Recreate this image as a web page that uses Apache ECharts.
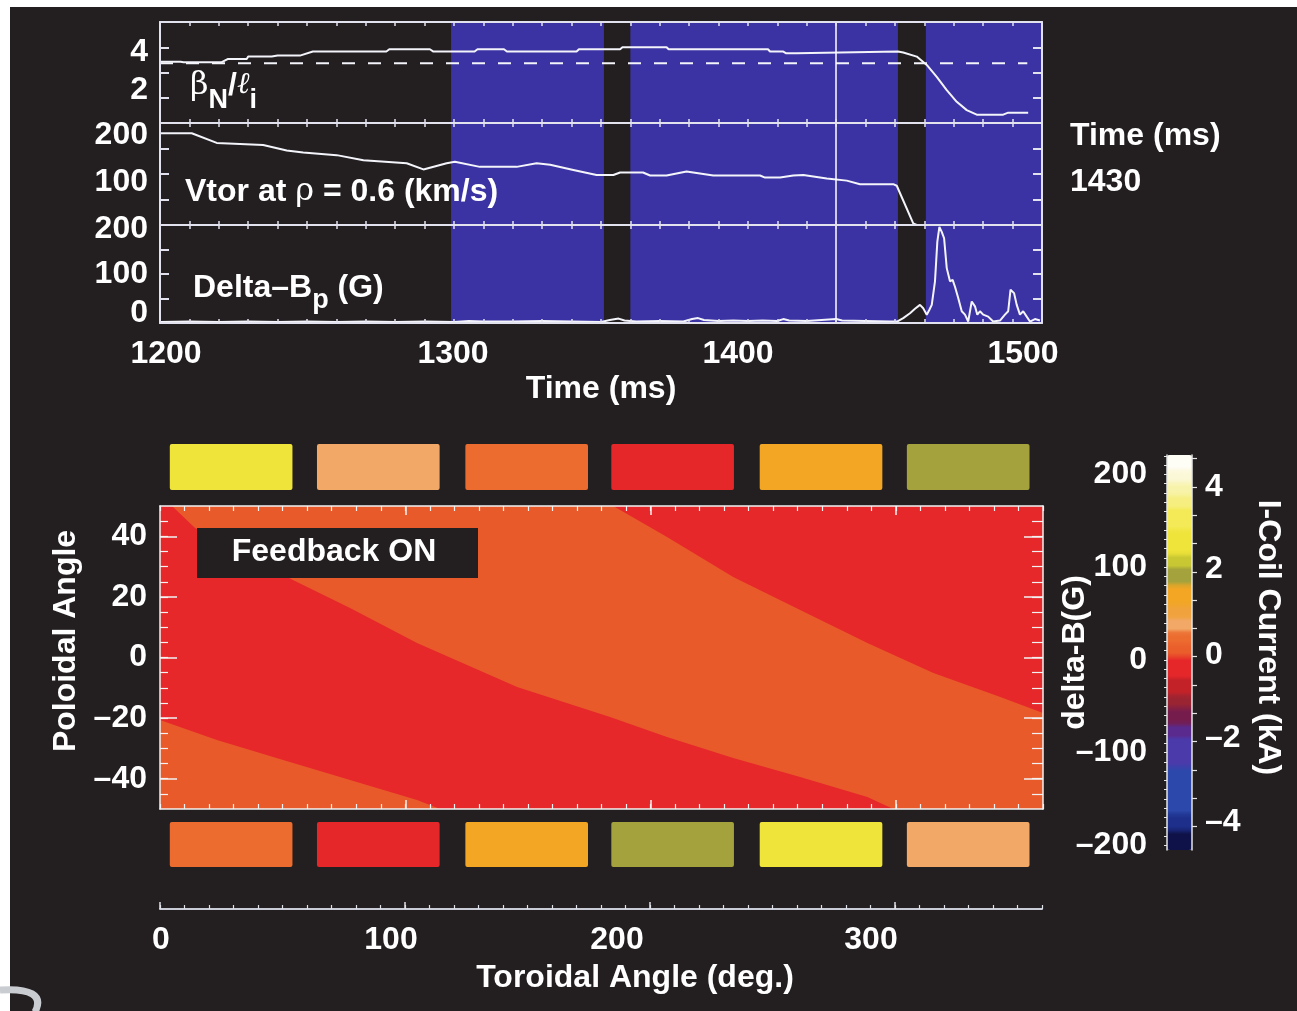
<!DOCTYPE html>
<html>
<head>
<meta charset="utf-8">
<script src="https://cdn.jsdelivr.net/npm/echarts@6/dist/echarts.min.js"></script>
<style>
  html, body { margin: 0; padding: 0; background: #ffffff; }
  #c { width: 1297px; height: 1011px; }
</style>
</head>
<body>
<div id="c"></div>
<script>
// ---------------- data ----------------
// time traces (ms)
const timeTickLabels = [1200, 1300, 1400, 1500];
const betaNLi = [[1200,3.43],[1207,3.43],[1208,3.41],[1221,3.41],[1223,3.53],[1229.5,3.53],[1230,3.63],[1238,3.63],[1240,3.67],[1247.6,3.67],[1252,3.83],[1277,3.83],[1278,3.92],[1291.8,3.92],[1293,3.83],[1307,3.83],[1308,3.92],[1317,3.92],[1318,3.83],[1341.7,3.83],[1342.5,3.92],[1356.5,3.92],[1357.3,4.0],[1372.3,4.0],[1373,3.92],[1406.8,3.92],[1407.5,3.83],[1412,3.83],[1413,3.76],[1416.6,3.76],[1417.2,3.83],[1451,3.83],[1452.8,3.79],[1457.4,3.63],[1460.8,3.30],[1464.2,2.83],[1467.6,2.30],[1471,1.84],[1474.4,1.51],[1477.8,1.33],[1486.8,1.33],[1488.5,1.41],[1495.3,1.41]];
const betaNLiLimit = [[1200,3.37],[1495,3.37]];
const vtor = [[1200,180],[1210.8,180],[1219.3,161],[1235.1,157],[1243.1,146],[1248.7,142],[1260.1,137],[1269.2,127],[1283.9,121],[1289.6,109],[1297.5,121],[1300.3,124],[1308.8,114],[1321.3,114],[1328.1,121],[1332.7,118],[1340.6,108],[1348.5,98],[1354.2,98],[1356.5,103],[1364.3,103],[1366.7,97],[1372.3,97],[1379.1,105],[1388.2,97],[1404.1,97],[1405.8,93],[1410.9,93],[1415.4,97],[1418.8,98],[1426.8,91],[1433.6,87],[1438.1,80],[1449.4,80],[1450.6,77],[1456.2,3],[1457.4,0]];
const deltaBp = [[1200,2],[1210,3],[1220,2],[1230,3],[1240,2],[1250,3],[1260,2],[1270,3],[1280,2],[1290,3],[1300,2],[1305,4],[1310,3],[1320,3],[1330,4],[1340,3],[1350,2],[1353,6],[1356,9],[1358,5],[1362,3],[1370,4],[1378,3],[1381,8],[1383,10],[1385,6],[1390,4],[1395,5],[1400,4],[1405,5],[1410,4],[1412,8],[1414,5],[1420,4],[1425,6],[1430,8],[1432,5],[1440,4],[1448.3,3],[1450.7,3],[1452.8,10],[1455.1,20],[1456.8,29],[1458.5,37],[1459.6,30],[1460.8,17],[1461.7,27],[1462.5,37],[1463.6,85],[1464.4,166],[1465.1,196],[1465.9,186],[1466.7,173],[1467.6,112],[1468.7,85],[1469.6,88],[1470.4,74],[1471.5,51],[1472.7,24],[1473.8,17],[1474.9,3],[1476.1,44],[1477.2,34],[1478,17],[1478.9,24],[1480,17],[1481.7,13],[1483.4,3],[1485.7,5],[1487.4,17],[1488.5,24],[1489.3,68],[1490.5,61],[1491.4,37],[1492.5,17],[1493.6,24],[1494.8,13],[1495.9,3],[1497.6,8],[1499.3,5]];
const feedbackOnStart = [1299, 1360, 1460.5];
const feedbackOnEnd = [1351, 1451, 1500];
const snapshotTime = 1430;

const betaTickLabels = [2, 4];
const vtorTickLabels = [100, 200];
const deltaBpTickLabels = [0, 100, 200];

// mode structure: boundaries between the two field levels, [toroidal deg, poloidal deg]
const frontA = [[4.9,50],[14.3,42.7],[54.2,25.6],[77.5,16.3],[104.8,4.8],[145.6,-9.7],[183.5,-19.6],[206.7,-26.2],[233.7,-33.2],[261,-39.4],[288.4,-46],[299,-50]];
const frontB = [[184.8,50],[206.7,39.8],[233.7,26.6],[261,15.7],[288.4,4.8],[315.3,-5.1],[342.6,-13],[360,-18.3]];
const frontBWrapped = [[0,-20.6],[23.2,-27.2],[50.2,-33.8],[77.5,-40.4],[104.8,-47],[114.2,-50]];

const poloidalTickLabels = [-40, -20, 0, 20, 40];
const toroidalTickLabels = [0, 100, 200, 300];

// I-coils (centre toroidal angle, current in kA)
const coilToroidal = [29, 89, 149.5, 209, 269.5, 329.5];
const upperCoilCurrent = [2.7, 0.75, 0.43, -0.25, 1.45, 1.9];
const lowerCoilCurrent = [0.43, -0.25, 1.45, 1.9, 2.7, 0.75];

const deltaBTickLabels = [-200, -100, 0, 100, 200];
const iCoilTickLabels = [-4, -2, 0, 2, 4];

// ---------------- styling ----------------
const BG = '#231f20';
const BLUE = '#3b33a3';
const RED = '#e6282a';
const ORANGE = '#e95a2b';
const AX = '#e2e2ee';
const FONT = '"Liberation Sans", Arial, sans-serif';
const SYM = '"DejaVu Serif","Liberation Serif",serif';
const FS = 32;
const lab = { color: '#ffffff', fontFamily: FONT, fontWeight: 'bold', fontSize: FS };
const COIL_SPAN = 50;
const CB_MIN = -4.55, CB_MAX = 4.75;
const DB_MIN = -205, DB_MAX = 221;

// colour table of the I-coil / delta-B scale, [upper edge kA, colour]
const cbBands = [
  [4.75,'#fefdf6'],[4.45,'#fbf8d8'],[4.15,'#f8f3ab'],[3.8,'#f6ee80'],[3.45,'#f4ea58'],
  [3.03,'#efe43a'],[2.39,'#c9c833'],[2.11,'#a3a23c'],[1.69,'#f2a624'],[1.22,'#f0a23c'],
  [0.91,'#f2a866'],[0.58,'#ec6c30'],[0.28,'#ea5e2c'],[-0.01,'#e6272a'],[-0.50,'#c42229'],
  [-0.85,'#9a2432'],[-1.21,'#761c4c'],[-1.56,'#5a2a8e'],[-1.85,'#4a3aaa'],[-2.56,'#2b48aa'],
  [-3.73,'#1d2f8a'],[-4.13,'#0f1248']
];
function bandColor(v) {
  for (let i = cbBands.length - 1; i >= 0; i--) {
    if (v <= cbBands[i][0]) return cbBands[i][1];
  }
  return cbBands[0][1];
}
const palette = [];
for (let k = 0; k < 94; k++) palette.push(bandColor(CB_MIN + (CB_MAX - CB_MIN) * k / 93));

function dash(v) { return String(v).replace('-', '\u2013'); }
function yLabels(values, dy, margin) {
  const rich = {};
  values.forEach((v, i) => {
    const d = (dy && dy[v]) || 0;
    rich['r' + i] = Object.assign({}, lab, { padding: [d > 0 ? 2 * d : 0, 0, d < 0 ? -2 * d : 0, 0] });
  });
  return Object.assign({}, lab, {
    show: true, margin: margin, customValues: values, rich: rich,
    formatter: v => { const i = values.indexOf(v); return i < 0 ? '' : '{r' + i + '|' + dash(v) + '}'; }
  });
}
function xLabels(values, dx, margin) {
  const rich = {};
  values.forEach((v, i) => {
    const d = (dx && dx[v]) || 0;
    rich['r' + i] = Object.assign({}, lab, { padding: [0, d < 0 ? -2 * d : 0, 0, d > 0 ? 2 * d : 0] });
  });
  return Object.assign({}, lab, {
    show: true, margin: margin, customValues: values, rich: rich,
    formatter: v => { const i = values.indexOf(v); return i < 0 ? '' : '{r' + i + '|' + dash(v) + '}'; }
  });
}
const noLabel = { show: false };
const noSplit = { show: false };
function range(a, b, s) { const r = []; for (let v = a; v <= b + 1e-9; v += s) r.push(Math.round(v * 1000) / 1000); return r; }

// ---------------- grids ----------------
const grids = [
  { left: 160, right: 255, top: 22, height: 101 },   // 0 beta_N / li
  { left: 160, right: 255, top: 123, height: 102 },  // 1 Vtor
  { left: 160, right: 255, top: 225, height: 98 },   // 2 delta-Bp
  { left: 160, right: 254, top: 506, height: 303 },  // 3 mode map
  { left: 160, right: 254, top: 444, height: 46 },   // 4 upper coils
  { left: 160, right: 254, top: 822, height: 45 },   // 5 lower coils
  { left: 160, right: 255, top: 899, height: 10 },   // 6 toroidal axis
  { left: 1167, width: 25, top: 455, height: 395 }   // 7 colour bar
].map(g => Object.assign({ outerBoundsMode: 'none', containLabel: false }, g));

// ---------------- axes ----------------
const xAxis = [];
const yAxis = [];
function timeX(gi, position, withLabels) {
  const a = {
    gridIndex: gi, type: 'value', position: position, min: 1200, max: 1500, interval: 10, z: 10,
    axisLine: { onZero: false, lineStyle: { color: AX, width: 2 } },
    axisTick: { inside: true, length: 4, lineStyle: { color: AX, width: 1.5 } },
    axisLabel: noLabel, splitLine: noSplit
  };
  if (withLabels) {
    a.axisLabel = xLabels(timeTickLabels, { 1200: 6, 1300: -1, 1400: -10, 1500: -19 }, 15);
    a.name = 'Time (ms)';
    a.nameLocation = 'middle';
    a.nameGap = 50;
    a.nameMoveOverlap = false;
    a.nameTextStyle = Object.assign({}, lab);
  }
  xAxis.push(a);
  return xAxis.length - 1;
}
function panelY(gi, min, max, ticks, labels, dy) {
  const left = {
    gridIndex: gi, type: 'value', position: 'left', min: min, max: max, z: 10,
    axisLine: { show: true, onZero: false, lineStyle: { color: AX, width: 2 } },
    axisTick: { show: true, inside: true, length: 9, customValues: ticks, lineStyle: { color: AX, width: 2 } },
    axisLabel: yLabels(labels, dy, 12), splitLine: noSplit
  };
  const right = {
    gridIndex: gi, type: 'value', position: 'right', min: min, max: max, z: 10,
    axisLine: { show: true, onZero: false, lineStyle: { color: AX, width: 2 } },
    axisTick: { show: true, inside: true, length: 9, customValues: ticks, lineStyle: { color: AX, width: 2 } },
    axisLabel: noLabel, splitLine: noSplit
  };
  yAxis.push(left); const li = yAxis.length - 1;
  yAxis.push(right);
  return li;
}

const xP0 = timeX(0, 'bottom', false); timeX(0, 'top', false);
const xP1 = timeX(1, 'bottom', false); timeX(1, 'top', false);
const xP2 = timeX(2, 'bottom', true); timeX(2, 'top', false);
const yP0 = panelY(0, 1, 5, [2, 3, 4], betaTickLabels, { 4: 5, 2: -8 });
const yP1 = panelY(1, 0, 200, [50, 100, 150], vtorTickLabels, { 200: 12, 100: 8 });
const yP2 = panelY(2, 0, 200, [50, 100, 150], deltaBpTickLabels, { 200: 4, 0: -10 });

// mode map axes
const mapLine = { show: true, onZero: false, lineStyle: { color: '#f2f2f2', width: 1.5 } };
function mapX(position, major) {
  xAxis.push({
    gridIndex: 3, type: 'value', position: position, min: 0, max: 360, interval: 10, z: 10,
    axisLine: major ? { show: false, onZero: false } : mapLine,
    axisTick: major ? { inside: true, length: 9, customValues: [100, 200, 300], lineStyle: { color: '#f2f2f2', width: 1.5 } }
                    : { inside: true, length: 5, lineStyle: { color: '#f2f2f2', width: 1.2 } },
    axisLabel: noLabel, splitLine: noSplit
  });
  return xAxis.length - 1;
}
const xMap = mapX('bottom', false); mapX('top', false); mapX('bottom', true); mapX('top', true);
function mapY(position, major, withLabels) {
  const a = {
    gridIndex: 3, type: 'value', position: position, min: -50, max: 50, z: 10,
    axisLine: major ? mapLine : { show: false, onZero: false },
    axisTick: major ? { inside: true, length: position === 'left' ? 17 : 19, customValues: poloidalTickLabels, lineStyle: { color: '#f2f2f2', width: 1.5 } }
                    : { inside: true, length: position === 'left' ? 8 : 11, customValues: range(-45, 45, 5), lineStyle: { color: '#f2f2f2', width: 1.2 } },
    axisLabel: withLabels ? yLabels(poloidalTickLabels, null, 13) : noLabel,
    splitLine: noSplit
  };
  if (withLabels) {
    a.name = 'Poloidal Angle';
    a.nameLocation = 'middle';
    a.nameRotate = 90;
    a.nameGap = 78;
    a.nameMoveOverlap = false;
    a.nameTextStyle = Object.assign({}, lab, { padding: [0, 0, 0, 33] });
  }
  yAxis.push(a);
  return yAxis.length - 1;
}
const yMap = mapY('left', true, true); mapY('left', false, false); mapY('right', true, false); mapY('right', false, false);

// coil rows
const hiddenAxis = { show: false };
xAxis.push(Object.assign({ gridIndex: 4, type: 'value', min: 0, max: 360 }, hiddenAxis)); const xUp = xAxis.length - 1;
yAxis.push(Object.assign({ gridIndex: 4, type: 'value', min: 0, max: 1 }, hiddenAxis)); const yUp = yAxis.length - 1;
xAxis.push(Object.assign({ gridIndex: 5, type: 'value', min: 0, max: 360 }, hiddenAxis)); const xLo = xAxis.length - 1;
yAxis.push(Object.assign({ gridIndex: 5, type: 'value', min: 0, max: 1 }, hiddenAxis)); const yLo = yAxis.length - 1;

// toroidal angle axis
xAxis.push({
  gridIndex: 6, type: 'value', position: 'bottom', min: 0, max: 360, interval: 10,
  axisLine: { show: true, onZero: false, lineStyle: { color: '#c9ccd6', width: 2 } },
  axisTick: { inside: true, length: 4, lineStyle: { color: '#dfe1e8', width: 1.2 } },
  axisLabel: xLabels(toroidalTickLabels, { 0: 1, 100: -14, 200: -33, 300: -24 }, 15),
  splitLine: noSplit,
  name: 'Toroidal Angle (deg.)', nameLocation: 'middle', nameGap: 53, nameMoveOverlap: false,
  nameTextStyle: Object.assign({}, lab, { padding: [0, 0, 0, 68] })
});
xAxis.push({
  gridIndex: 6, type: 'value', position: 'bottom', min: 0, max: 360,
  axisLine: { show: false, onZero: false },
  axisTick: { inside: true, length: 7, customValues: [0, 100, 200, 300], lineStyle: { color: '#dfe1e8', width: 1.5 } },
  axisLabel: noLabel, splitLine: noSplit
});
yAxis.push({ gridIndex: 6, type: 'value', min: 0, max: 1, show: false });

// colour bar axes
xAxis.push({ gridIndex: 7, type: 'value', min: 0, max: 1, show: false });
yAxis.push({
  gridIndex: 7, type: 'value', position: 'left', min: DB_MIN, max: DB_MAX, z: 10,
  axisLine: { show: true, onZero: false, lineStyle: { color: '#e6e6e6', width: 1.5 } },
  axisTick: { show: true, inside: false, length: 3, customValues: range(-200, 220, 10), lineStyle: { color: '#e6e6e6', width: 1 } },
  axisLabel: yLabels(deltaBTickLabels, null, 20), splitLine: noSplit,
  name: 'delta-B(G)', nameLocation: 'middle', nameRotate: 90, nameGap: 76, nameMoveOverlap: false,
  nameTextStyle: Object.assign({}, lab)
});
yAxis.push({
  gridIndex: 7, type: 'value', position: 'right', min: CB_MIN, max: CB_MAX, z: 10,
  axisLine: { show: true, onZero: false, lineStyle: { color: '#e6e6e6', width: 1.5 } },
  axisTick: { show: true, inside: false, length: 5, customValues: range(-4, 4.67, 2 / 3), lineStyle: { color: '#e6e6e6', width: 1.2 } },
  axisLabel: yLabels(iCoilTickLabels, { 2: -3, 0: -2, '-2': -4, '-4': -4 }, 13), splitLine: noSplit,
  name: 'I-Coil Current (kA)', nameLocation: 'middle', nameRotate: -90, nameGap: 60, nameMoveOverlap: false,
  nameTextStyle: Object.assign({}, lab, { padding: [0, 30, 0, 0] })
});

// ---------------- series ----------------
const shading = {
  silent: true,
  itemStyle: { color: BLUE },
  data: feedbackOnStart.map((s, i) => [{ xAxis: s }, { xAxis: feedbackOnEnd[i] }])
};
const marker = {
  silent: true, symbol: ['none', 'none'], label: { show: false },
  lineStyle: { color: '#ffffff', width: 1.5, type: 'solid' },
  data: [{ xAxis: snapshotTime }]
};
function trace(xi, yi, data) {
  return {
    type: 'line', xAxisIndex: xi, yAxisIndex: yi, data: data, showSymbol: false, symbol: 'none',
    lineStyle: { color: '#f4f4fb', width: 2 }, z: 3, markArea: shading, markLine: marker, silent: true
  };
}

const mapRegions = [
  { color: ORANGE, pts: [[0, 50], [360, 50], [360, -50], [0, -50]] },
  { color: RED, pts: [[0, 50]].concat(frontA, frontBWrapped.slice().reverse()) },
  { color: RED, pts: frontB.concat([[360, 50]]) }
];

function coilItem(params, api) {
  const t = api.value(0);
  const p0 = api.coord([t - COIL_SPAN / 2, 1]);
  const p1 = api.coord([t + COIL_SPAN / 2, 0]);
  return {
    type: 'rect',
    shape: { x: p0[0], y: p0[1], width: p1[0] - p0[0], height: p1[1] - p0[1], r: 2 },
    style: { fill: api.visual('color') }
  };
}

const series = [
  trace(xP0, yP0, betaNLi),
  { type: 'line', xAxisIndex: xP0, yAxisIndex: yP0, data: betaNLiLimit, showSymbol: false, symbol: 'none', silent: true, z: 3,
    lineStyle: { color: '#f4f4fb', width: 2, type: [13, 13] } },
  trace(xP1, yP1, vtor),
  trace(xP2, yP2, deltaBp),
  { type: 'custom', xAxisIndex: xMap, yAxisIndex: yMap, silent: true, z: 1,
    data: mapRegions.map((r, i) => [i]),
    renderItem: (params, api) => {
      const r = mapRegions[params.dataIndex];
      return { type: 'polygon', shape: { points: r.pts.map(p => api.coord(p)) }, style: { fill: r.color } };
    } },
  { type: 'custom', xAxisIndex: xUp, yAxisIndex: yUp, silent: true,
    data: coilToroidal.map((t, i) => [t, upperCoilCurrent[i]]), renderItem: coilItem },
  { type: 'custom', xAxisIndex: xLo, yAxisIndex: yLo, silent: true,
    data: coilToroidal.map((t, i) => [t, lowerCoilCurrent[i]]), renderItem: coilItem }
];

// ---------------- annotations ----------------
const graphic = [
  { type: 'rect', z: -100, shape: { x: 10, y: 7, width: 1287, height: 1004 }, style: { fill: BG }, silent: true },
  { type: 'bezierCurve', z: -50, silent: true,
    shape: { x1: 0, y1: 990, cpx1: 30, cpy1: 988, cpx2: 44, cpy2: 995, x2: 35, y2: 1012 },
    style: { stroke: '#c9ccd1', lineWidth: 7, fill: null } },
  { type: 'text', z: 50, x: 190, y: 70, silent: true, style: {
      text: '{g|\u03b2}{s|N}{t|/}{l|\u2113}{s|i}',
      rich: {
        g: { fill: '#fff', fontFamily: SYM, fontSize: 32, lineHeight: 44, verticalAlign: 'top' },
        s: { fill: '#fff', fontFamily: FONT, fontWeight: 'bold', fontSize: 27, verticalAlign: 'bottom' },
        t: { fill: '#fff', fontFamily: FONT, fontWeight: 'bold', fontSize: 32, lineHeight: 44, verticalAlign: 'top' },
        l: { fill: '#fff', fontFamily: SYM, fontStyle: 'italic', fontSize: 30, lineHeight: 44, verticalAlign: 'top' }
      } } },
  { type: 'text', z: 50, x: 185, y: 192, silent: true, style: {
      text: '{a|Vtor at }{r|\u03c1}{a| = 0.6 (km/s)}', verticalAlign: 'middle',
      rich: {
        a: { fill: '#fff', fontFamily: FONT, fontWeight: 'bold', fontSize: FS },
        r: { fill: '#fff', fontFamily: SYM, fontSize: 32 }
      } } },
  { type: 'text', z: 50, x: 193, y: 272, silent: true, style: {
      text: '{a|Delta\u2013B}{s|p}{a| (G)}',
      rich: {
        a: { fill: '#fff', fontFamily: FONT, fontWeight: 'bold', fontSize: FS, lineHeight: 42, verticalAlign: 'top' },
        s: { fill: '#fff', fontFamily: FONT, fontWeight: 'bold', fontSize: 27, verticalAlign: 'bottom' }
      } } },
  { type: 'text', z: 50, x: 1070, y: 136, silent: true, style: {
      text: 'Time (ms)', fill: '#fff', font: 'bold ' + FS + 'px ' + FONT, verticalAlign: 'middle' } },
  { type: 'text', z: 50, x: 1070, y: 182, silent: true, style: {
      text: String(snapshotTime), fill: '#fff', font: 'bold ' + FS + 'px ' + FONT, verticalAlign: 'middle' } },
  { type: 'rect', z: 50, silent: true, shape: { x: 197, y: 528, width: 281, height: 50 }, style: { fill: BG } },
  { type: 'text', z: 51, x: 334, y: 552, silent: true, style: {
      text: 'Feedback ON', fill: '#fff', font: 'bold ' + FS + 'px ' + FONT, align: 'center', verticalAlign: 'middle' } }
];

const chart = echarts.init(document.getElementById('c'), null, { renderer: 'canvas', width: 1297, height: 1011 });
chart.setOption({
  backgroundColor: '#ffffff',
  animation: false,
  grid: grids,
  xAxis: xAxis,
  yAxis: yAxis,
  visualMap: {
    type: 'continuous', seriesIndex: [5, 6], dimension: 1,
    min: CB_MIN, max: CB_MAX, inRange: { color: palette },
    orient: 'vertical', left: 1167, top: 455, itemWidth: 25, itemHeight: 395,
    padding: 0, calculable: false, hoverLink: false, text: null, showLabel: false
  },
  series: series,
  graphic: { elements: graphic }
});
</script>
</body>
</html>
